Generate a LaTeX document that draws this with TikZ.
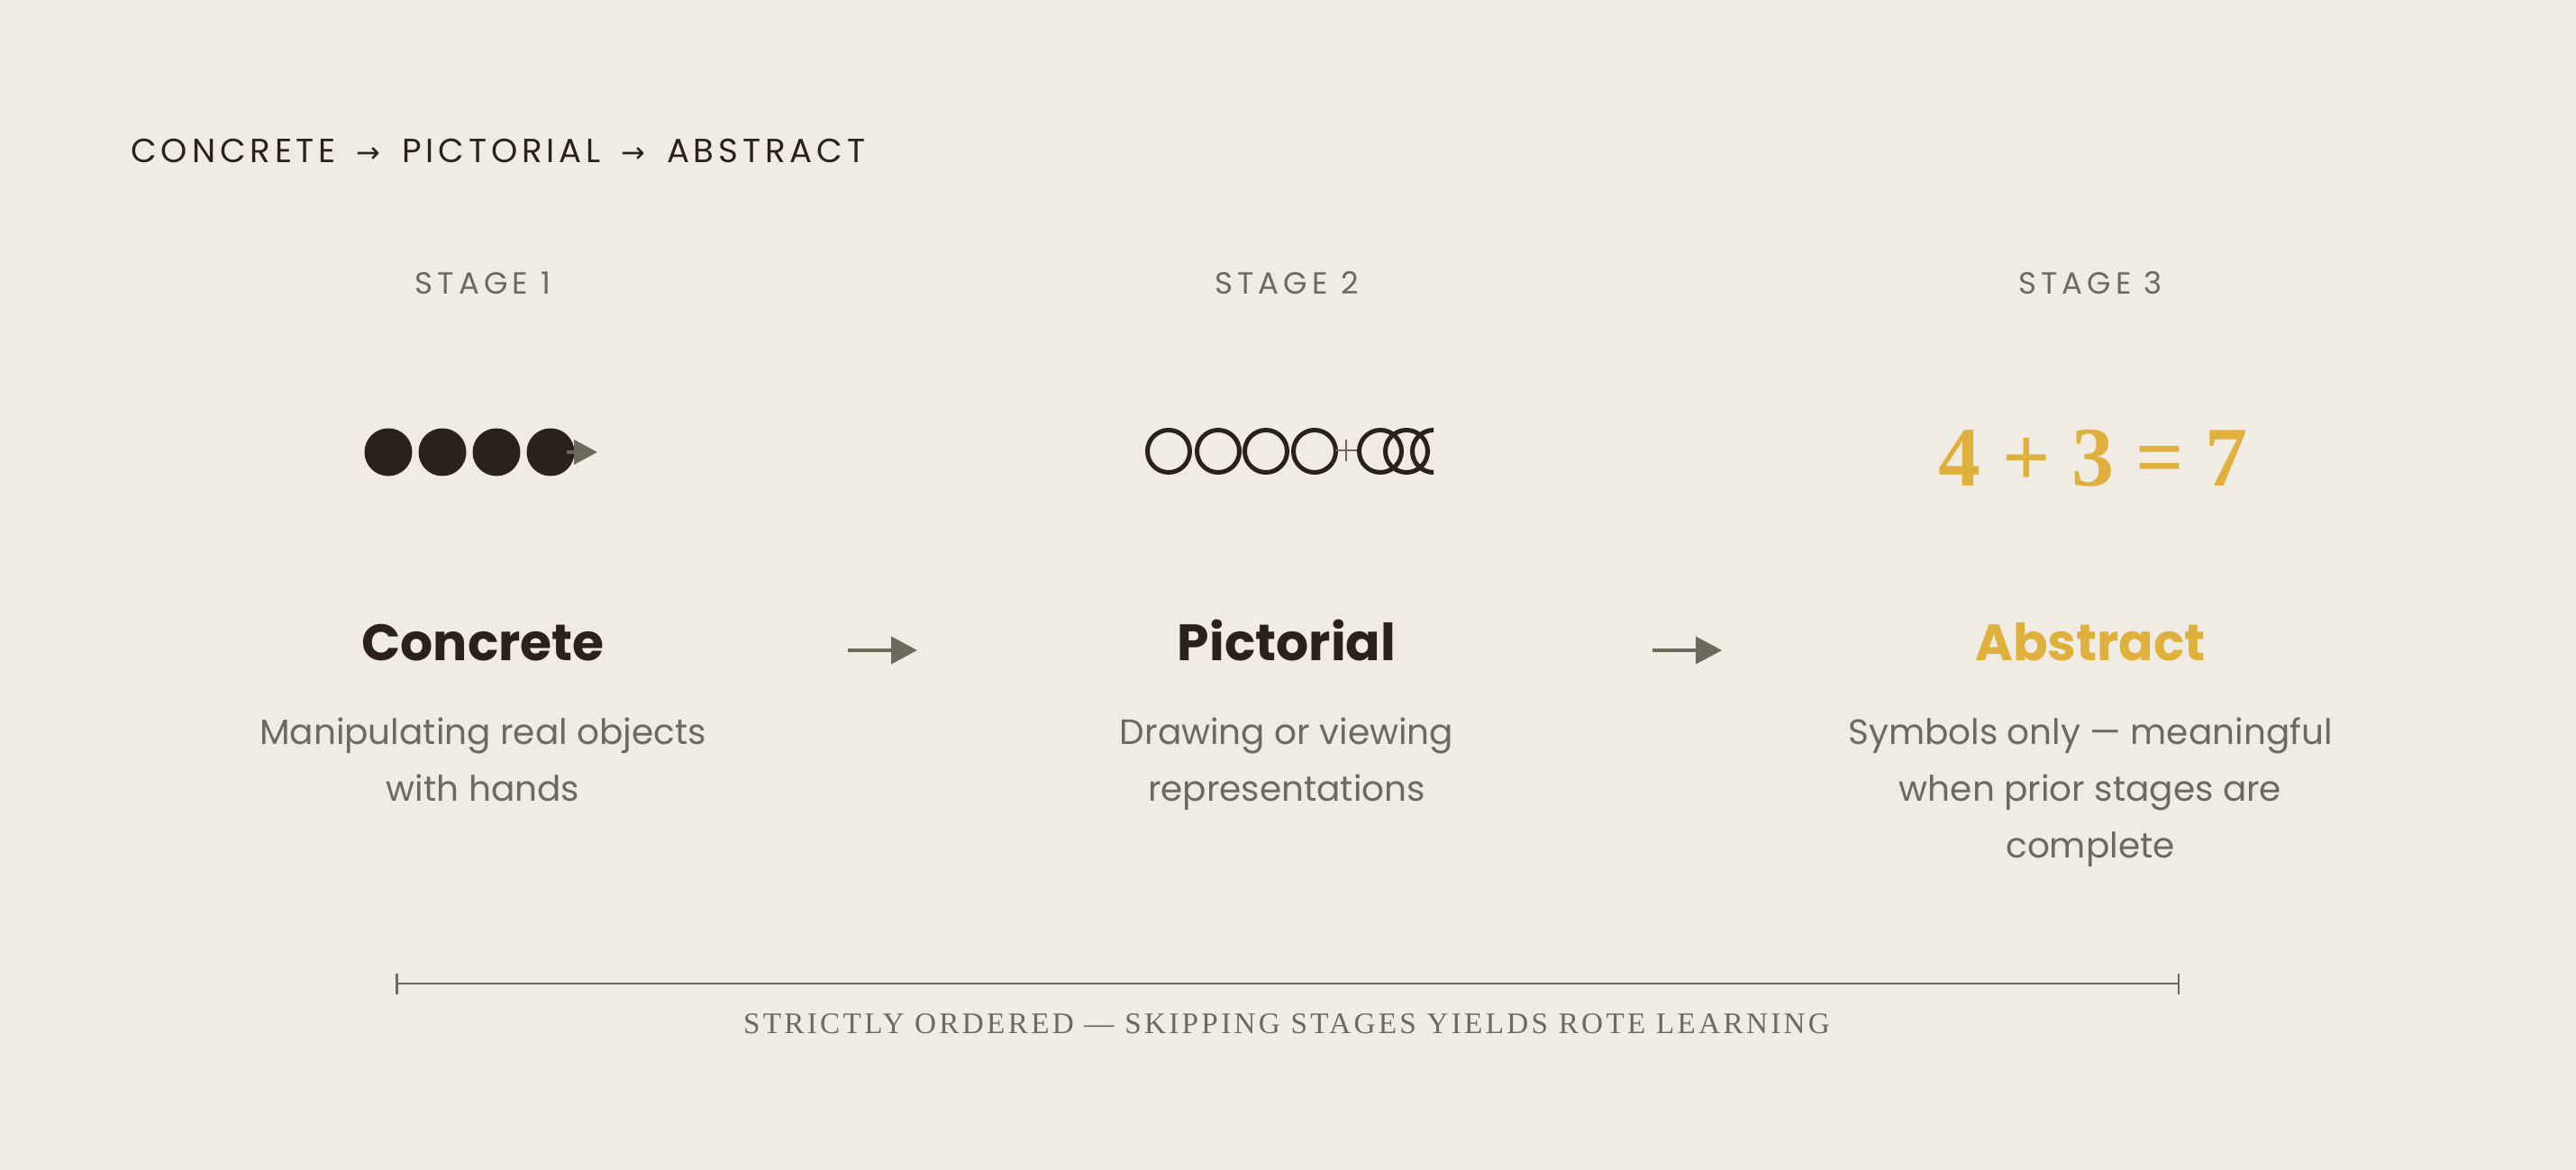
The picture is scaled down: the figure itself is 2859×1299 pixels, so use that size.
\documentclass[tikz,border=0pt]{standalone}
\usepackage{fontspec}
\setmainfont{Poppins}
\newfontfamily\notefont{Liberation Serif}
\newfontfamily\arrowfont{DejaVu Sans}
\usetikzlibrary{arrows.meta}
\definecolor{paper}{HTML}{F0ECE4}
\definecolor{ink}{HTML}{2A2218}
\definecolor{muted}{HTML}{6E695D}
\definecolor{gold}{HTML}{DFB13C}
\newcommand{\stagearrow}{\hspace{4pt}{\arrowfont\fontsize{16}{18}\selectfont →}\hspace{4.5pt}}

\begin{document}
\begin{tikzpicture}[x=0.5pt,y=-0.5pt,
  stagelbl/.style={text=muted,inner sep=0pt,anchor=base,
    font=\fontsize{17}{20}\selectfont\addfontfeatures{LetterSpace=15}},
  heading/.style={text=ink,inner sep=0pt,anchor=base,
    font=\fontsize{28.4}{34}\selectfont\bfseries},
  blurb/.style={text=muted,inner sep=0pt,anchor=north,align=center,
    font=\fontsize{19.5}{31.5}\selectfont},
  flow/.style={draw=muted,line width=2pt,-{Triangle[length=14.5pt,width=15pt]}}]

  % Page
  \fill[paper] (0,0) rectangle (2859,1299);

  % Title
  \node[anchor=base west,inner sep=0pt,text=ink,
    font=\fontsize{18.6}{22}\selectfont\addfontfeatures{LetterSpace=13}]
    (ttl) at (145,181) {CONCRETE \stagearrow{} PICTORIAL \stagearrow{} ABSTRACT};

  % Stage labels
  \node[stagelbl] (s1) at (536,327) {STAGE 1};
  \node[stagelbl] (s2) at (1428,327) {STAGE 2};
  \node[stagelbl] (s3) at (2320,327) {STAGE 3};

  % Stage 1 icon: counters being moved
  \foreach \cx in {431,491,551,611}
    \fill[ink] (\cx,502) circle (26.5);
  \coordinate (m1) at (629,502);
  \coordinate (m2) at (663,502);
  \draw[muted,line width=2pt,-{Triangle[length=13pt,width=13.5pt]}] (m1) -- (m2);

  % Stage 2 icon: drawn circles
  \foreach \cx in {1297,1352,1405,1459}
    \draw[ink,line width=2.5pt] (\cx,501) circle (23.5);
  \draw[muted,line width=1.25pt] (1482,500) -- (1506,500) (1494,488) -- (1494,512);
  \begin{scope}
    \clip (1500,460) rectangle (1591,545);
    \foreach \cx in {1532,1561,1591}
      \draw[ink,line width=2.5pt] (\cx,501) circle (23.5);
  \end{scope}

  % Stage 3 icon: symbols
  \node[anchor=base,inner sep=0pt,text=gold,
    font=\notefont\bfseries\fontsize{47}{50}\selectfont] (sum) at (2323,539) {4 + 3 = 7};

  % Headings and descriptions
  \node[heading] (t1) at (536,733) {Concrete};
  \node[heading] (t2) at (1428,733) {Pictorial};
  \node[heading,text=gold] (t3) at (2320,733) {Abstract};

  \node[blurb] (d1) at (536,796) {Manipulating real objects\\with hands};
  \node[blurb] (d2) at (1428,796) {Drawing or viewing\\representations};
  \node[blurb] (d3) at (2320,796) {Symbols only — meaningful\\when prior stages are\\complete};

  % Arrows between stages
  \coordinate (f1a) at (941,722);
  \coordinate (f1b) at (1018,722);
  \coordinate (f2a) at (1834,722);
  \coordinate (f2b) at (1911,722);
  \draw[flow] (f1a) -- (f1b);
  \draw[flow] (f2a) -- (f2b);

  % Bracket and note
  \coordinate (bl) at (439,1092);
  \coordinate (br) at (2419,1092);
  \draw[muted,line width=1.25pt,{Bar[width=11.5pt]}-{Bar[width=11.5pt]}] (bl) -- (br);
  \node[anchor=base,inner sep=0pt,text=muted,
    font=\notefont\fontsize{16.6}{20}\selectfont\addfontfeatures{LetterSpace=10}]
    (note) at (1428,1147) {STRICTLY ORDERED — SKIPPING STAGES YIELDS ROTE LEARNING};
\end{tikzpicture}
\end{document}
